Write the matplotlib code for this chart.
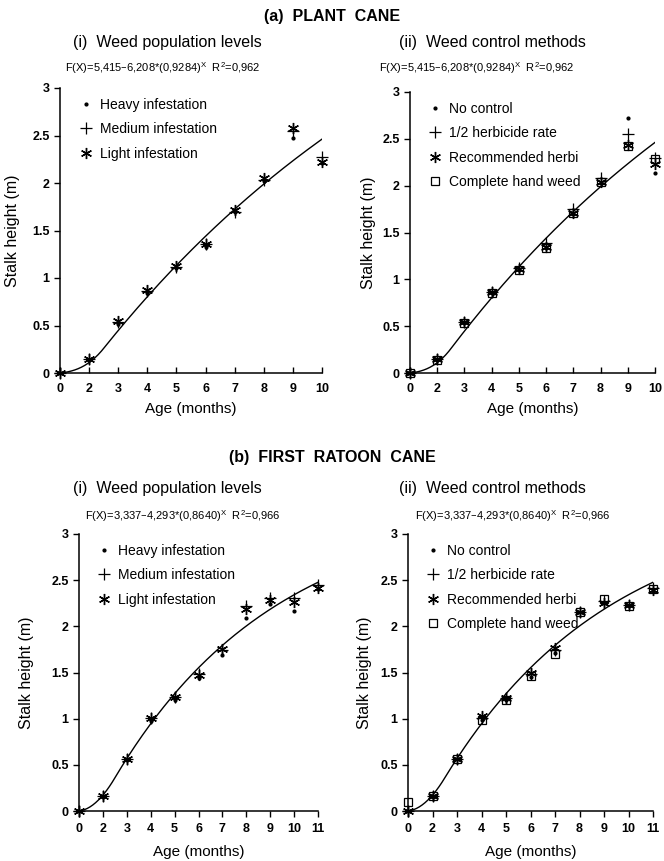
import numpy as np
import matplotlib
matplotlib.use("Agg")
import matplotlib.pyplot as plt

plt.rcParams['font.family'] = ['Liberation Sans', 'DejaVu Sans']
plt.rcParams['mathtext.default'] = 'regular'

# ---------------- data ----------------
ages_a = [0, 2, 3, 4, 5, 6, 7, 8, 9, 10]
ages_b = [0, 2, 3, 4, 5, 6, 7, 8, 9, 10, 11]

# (a)(i) plant cane, weed population levels
a_heavy = [0, 0.14, 0.52, 0.84, 1.11, 1.33, 1.69, 2.02, 2.47, 2.21]
a_medium = [0, 0.15, 0.54, 0.86, 1.12, 1.36, 1.70, 2.03, 2.55, 2.27]
a_light = [0, 0.15, 0.55, 0.87, 1.13, 1.36, 1.72, 2.05, 2.58, 2.22]

# (a)(ii) plant cane, weed control methods
a_noctrl = [0, 0.14, 0.53, 0.85, 1.10, 1.33, 1.70, 2.03, 2.72, 2.13]
a_half = [0, 0.15, 0.54, 0.86, 1.12, 1.39, 1.75, 2.08, 2.55, 2.30]
a_recom = [0, 0.15, 0.54, 0.86, 1.11, 1.34, 1.71, 2.04, 2.43, 2.23]
a_hand = [0, 0.14, 0.53, 0.85, 1.10, 1.33, 1.71, 2.04, 2.42, 2.28]

# (b)(i) first ratoon cane, weed population levels
b_heavy = [0, 0.15, 0.55, 0.98, 1.20, 1.44, 1.69, 2.09, 2.24, 2.17, 2.40]
b_medium = [0, 0.16, 0.56, 1.01, 1.23, 1.48, 1.74, 2.22, 2.31, 2.31, 2.45]
b_light = [0, 0.16, 0.56, 1.01, 1.23, 1.47, 1.75, 2.19, 2.28, 2.26, 2.41]

# (b)(ii) first ratoon cane, weed control methods
b_noctrl = [0, 0.15, 0.56, 0.99, 1.20, 1.45, 1.71, 2.15, 2.25, 2.22, 2.38]
b_half = [0, 0.16, 0.56, 1.01, 1.22, 1.48, 1.74, 2.16, 2.27, 2.23, 2.42]
b_recom = [0, 0.16, 0.56, 1.03, 1.22, 1.50, 1.76, 2.16, 2.25, 2.23, 2.39]
b_hand = [0.10, 0.16, 0.56, 0.99, 1.20, 1.46, 1.70, 2.16, 2.30, 2.22, 2.40]

# fitted models F(X) = p0 - p1 * p2^X
fit_a = (5.415, 6.208, 0.9284)
fit_b = (3.337, 4.293, 0.8640)

eq_a = r"F(X)=5,415–6,208*(0,9284)$^{X}$  R$^{2}$=0,962"
eq_b = r"F(X)=3,337–4,293*(0,8640)$^{X}$  R$^{2}$=0,966"

labels_pop = ["Heavy infestation", "Medium infestation", "Light infestation"]
labels_ctrl = ["No control", "1/2 herbicide rate", "Recommended herbi", "Complete hand weed"]

W, H = 664, 861
fig = plt.figure(figsize=(W / 100, H / 100), dpi=100)

def box(l, r, b, t):
    return [l / W, 1 - b / H, (r - l) / W, (b - t) / H]

STYLE = {
    'dot': dict(marker='.', markersize=4, color='black', linestyle='none'),
    'plus': dict(marker='+', markersize=8, markeredgewidth=0.9, color='black', linestyle='none'),
    'ast': dict(marker=(6, 2, 0), markersize=8, markeredgewidth=1.0, color='black', linestyle='none'),
    'sq': dict(marker='s', markersize=6, markeredgewidth=0.9, markerfacecolor='none',
               markeredgecolor='black', linestyle='none'),
}

def fit_curve(ax, fit, n):
    p0, p1, p2 = fit
    f = lambda x: p0 - p1 * p2 ** x
    df = lambda x: -p1 * p2 ** x * np.log(p2)
    # join point (position 1.5 -> age 2.5), smooth start from origin
    pj = 1.5
    yj, mj = f(pj + 1), df(pj + 1)
    t = np.linspace(0, 1, 40)
    h = pj
    m0 = 0.03
    h10 = t ** 3 - 2 * t ** 2 + t
    h01 = -2 * t ** 3 + 3 * t ** 2
    h11 = t ** 3 - t ** 2
    y1 = h10 * h * m0 + h01 * yj + h11 * h * mj
    x1 = t * h
    x2 = np.linspace(pj, n - 1, 200)
    y2 = f(x2 + 1)
    ax.plot(np.concatenate([x1, x2]), np.concatenate([y1, y2]), color='black', lw=1.0)

def setup(ax, ages, xdir):
    n = len(ages)
    ax.set_xlim(0, n - 1)
    ax.set_ylim(0, 3)
    ax.set_xticks(range(n))
    ax.set_xticklabels([str(a) for a in ages], fontweight='bold', fontsize=9)
    ax.set_yticks([0, 0.5, 1, 1.5, 2, 2.5, 3])
    ax.set_yticklabels(['0', '0.5', '1', '1.5', '2', '2.5', '3'], fontweight='bold', fontsize=9)
    ax.tick_params(axis='x', direction=xdir, length=4, width=1, pad=7 if xdir == 'in' else 5)
    ax.tick_params(axis='y', direction='out', length=4, width=1)
    for s in ['top', 'right']:
        ax.spines[s].set_visible(False)
    for s in ['left', 'bottom']:
        ax.spines[s].set_linewidth(1.1)
    ax.set_xlabel("Age (months)", fontsize=11)
    ax.set_ylabel("Stalk height (m)", fontsize=11.5)

def panel(rect, ages, series, styles, labels, fit, xdir, ylab_px, xlab_top_px):
    ax = fig.add_axes(rect)
    n = len(ages)
    pos = np.arange(n)
    handles = []
    for vals, st, lab in zip(series, styles, labels):
        h, = ax.plot(pos, vals, clip_on=False, zorder=3, label=lab, **STYLE[st])
        handles.append(h)
    fit_curve(ax, fit, n)
    setup(ax, ages, xdir)
    cx = rect[0] + rect[2] / 2
    cy = rect[1] + rect[3] / 2
    ax.yaxis.set_label_coords(ylab_px / W, cy, transform=fig.transFigure)
    ax.xaxis.set_label_coords(cx, 1 - xlab_top_px / H, transform=fig.transFigure)
    ax.legend(handles=handles, loc='upper left', frameon=False, fontsize=10,
              labelspacing=0.75, handletextpad=0.4, handlelength=1.2,
              bbox_to_anchor=(0.03, 1.0), borderaxespad=0.3)
    return ax

# (a) plant cane
panel(box(60, 322, 373, 88), ages_a, [a_heavy, a_medium, a_light], ['dot', 'plus', 'ast'],
      labels_pop, fit_a, 'in', 20, 402)
panel(box(410, 655, 373, 92), ages_a, [a_noctrl, a_half, a_recom, a_hand], ['dot', 'plus', 'ast', 'sq'],
      labels_ctrl, fit_a, 'in', 376, 402)
# (b) first ratoon cane
panel(box(79, 318, 811, 534), ages_b, [b_heavy, b_medium, b_light], ['dot', 'plus', 'ast'],
      labels_pop, fit_b, 'out', 34, 845)
panel(box(408, 653, 811, 534), ages_b, [b_noctrl, b_half, b_recom, b_hand], ['dot', 'plus', 'ast', 'sq'],
      labels_ctrl, fit_b, 'out', 372, 845)

def ftext(x, y, s, **kw):
    fig.text(x / W, 1 - y / H, s, ha='center', va='center', **kw)

ftext(332, 17, "(a)  PLANT  CANE", fontsize=11.5, fontweight='bold')
ftext(167, 42, "(i)  Weed population levels", fontsize=11.5)
ftext(492, 42, "(ii)  Weed control methods", fontsize=11.5)
ftext(163, 68, eq_a, fontsize=8)
ftext(477, 68, eq_a, fontsize=8)

ftext(332, 458, "(b)  FIRST  RATOON  CANE", fontsize=11.5, fontweight='bold')
ftext(167, 488, "(i)  Weed population levels", fontsize=11.5)
ftext(492, 488, "(ii)  Weed control methods", fontsize=11.5)
ftext(183, 516, eq_b, fontsize=8)
ftext(513, 516, eq_b, fontsize=8)

fig.savefig("out.png", dpi=100)
